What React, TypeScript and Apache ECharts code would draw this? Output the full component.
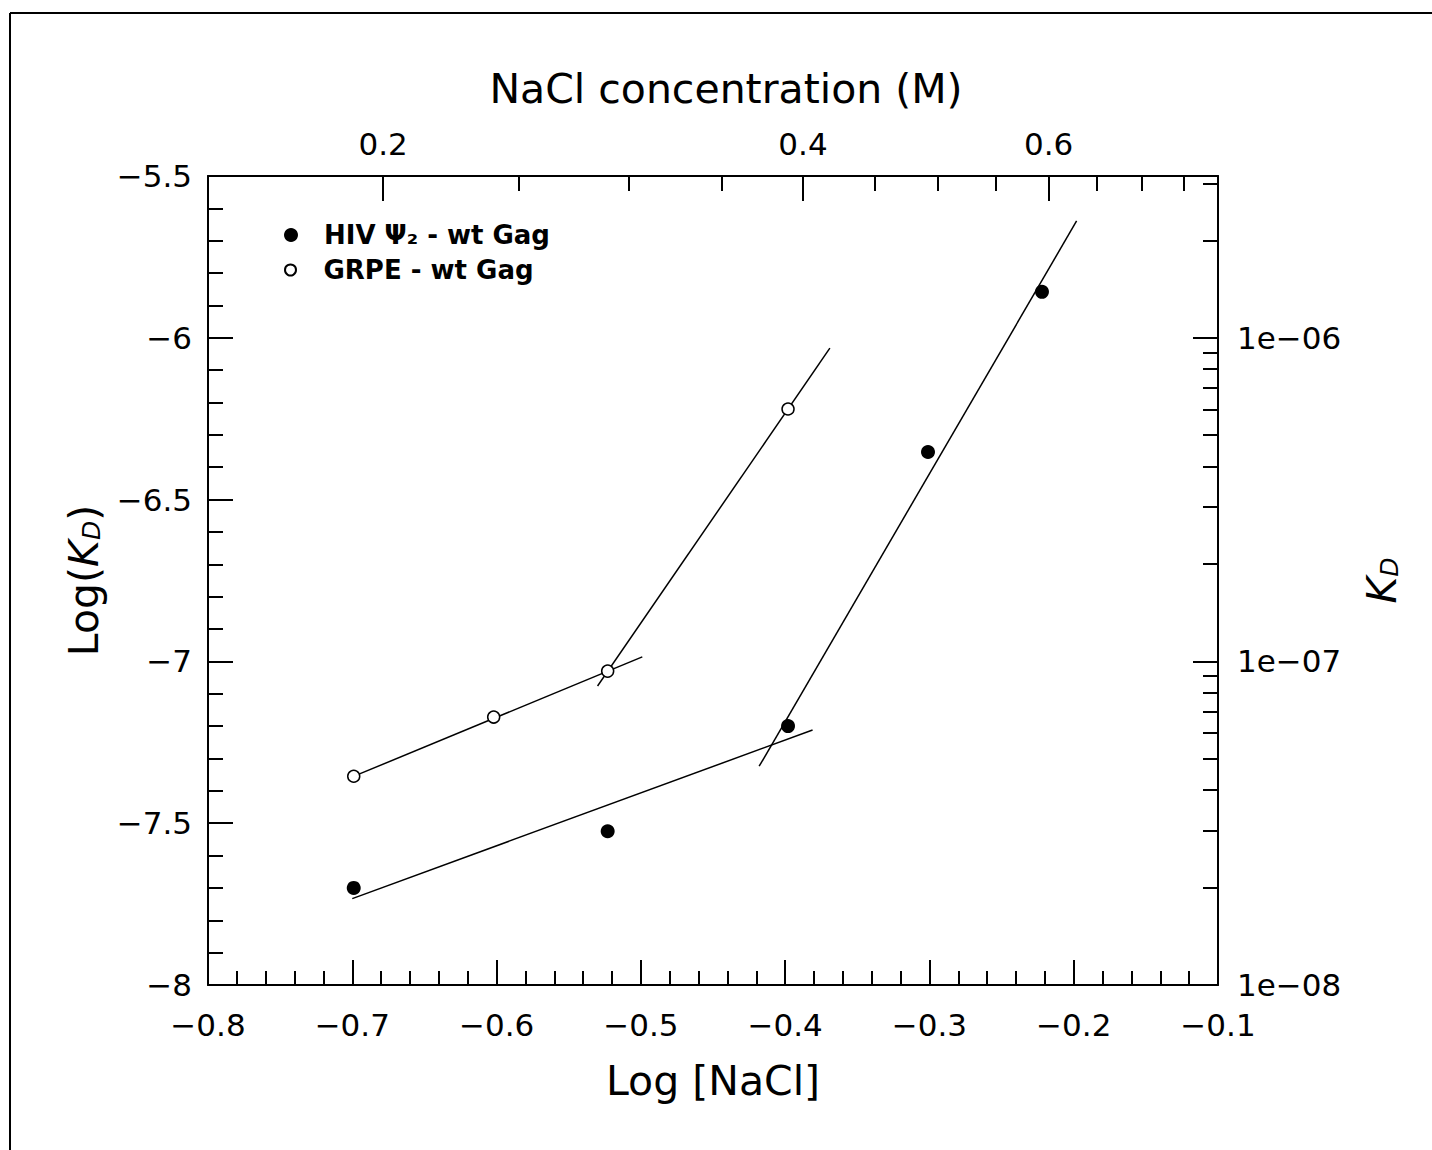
import React, { useEffect, useRef } from "react";
import * as echarts from "echarts";

// ---- data ----
const hivLogNaCl = [-0.699, -0.523, -0.398, -0.301, -0.222];
const hivLogKd = [-7.70, -7.525, -7.20, -6.353, -5.858];
const grpeLogNaCl = [-0.699, -0.602, -0.523, -0.398];
const grpeLogKd = [-7.355, -7.172, -7.03, -6.22];

// fitted line segments [x, y]
const hivFitLow = [[-0.700, -7.733], [-0.381, -7.212]];
const hivFitHigh = [[-0.418, -7.324], [-0.198, -5.639]];
const grpeFitLow = [[-0.700, -7.357], [-0.499, -6.986]];
const grpeFitHigh = [[-0.530, -7.076], [-0.369, -6.032]];

// axis ranges / ticks
const X_MIN = -0.8;
const X_MAX = -0.1;
const Y_MIN = -8;
const Y_MAX = -5.5;
const topTickConc = [0.2, 0.25, 0.3, 0.35, 0.4, 0.45, 0.5, 0.55, 0.6, 0.65, 0.7, 0.75];
const topLabelConc = [0.2, 0.4, 0.6];
const TOP_OFFSET = -0.0029;
const TOP_SCALE = 0.9668;
const kdMajorExp = [-8, -7, -6];
const kdMinorMult = [2, 3, 4, 5, 6, 7, 8, 9];

const LEGEND_HIV = "HIV Ψ\u2082 - wt Gag";
const LEGEND_GRPE = "GRPE - wt Gag";

const FONT = "DejaVu Sans";
const MINUS = "\u2212";

const concToPos = (c: number) => TOP_OFFSET + TOP_SCALE * Math.log10(c);
const posToConc = (p: number) => Math.pow(10, (p - TOP_OFFSET) / TOP_SCALE);

const topMajorPos = topLabelConc.map(concToPos);
const topMinorPos = topTickConc.filter((c) => topLabelConc.indexOf(c) < 0).map(concToPos);
const kdMinorPos: number[] = [];
kdMajorExp.forEach((e) => {
  kdMinorMult.forEach((m) => {
    const v = Math.log10(m) + e;
    if (v <= Y_MAX + 1e-9) kdMinorPos.push(v);
  });
});

const fmtNum = (v: number) => {
  const r = Math.round(v * 10) / 10;
  return String(r).replace("-", MINUS);
};
const fmtX = (v: number) => (Math.round(v * 10) / 10).toFixed(1).replace("-", MINUS);

const lineBase = { color: "#000", width: 2 };
const labelBase = { fontSize: 31, fontFamily: FONT, color: "#000" };
const nameBase = { fontSize: 41, fontFamily: FONT, color: "#000" };
const richKd = {
  k: { fontStyle: "italic", fontSize: 41, fontFamily: FONT, color: "#000" },
  d: { fontStyle: "italic", fontSize: 25, fontFamily: FONT, color: "#000", verticalAlign: "bottom", lineHeight: 12 },
};

const fitSeries = (name: string, data: number[][]) => ({
  name,
  type: "line",
  data,
  symbol: "none",
  showSymbol: false,
  silent: true,
  lineStyle: { color: "#000", width: 1.5 },
  z: 3,
});

const legendText = { fontSize: 26, fontWeight: "bold", fontFamily: FONT, color: "#000", lineHeight: 26 };

export default function App() {
  const ref = useRef<HTMLDivElement>(null);
  useEffect(() => {
    const chart = echarts.init(ref.current!, null, { renderer: "svg" });
    const option: any = {
      animation: false,
      backgroundColor: "#fff",
      textStyle: { fontFamily: FONT },
      grid: { left: 208, top: 176, right: 214, bottom: 165, containLabel: false },
      graphic: [
        { type: "line", shape: { x1: 10, y1: 13, x2: 1432, y2: 13 }, style: { stroke: "#000", lineWidth: 2 } },
        { type: "line", shape: { x1: 10, y1: 13, x2: 10, y2: 1150 }, style: { stroke: "#000", lineWidth: 2 } },
      ],
      legend: [
        {
          data: [{ name: LEGEND_HIV, icon: "circle" }],
          left: 284,
          top: 222,
          padding: 0,
          itemWidth: 56,
          itemHeight: 14,
          selectedMode: false,
          itemStyle: { opacity: 1 },
          textStyle: legendText,
        },
        {
          data: [{ name: LEGEND_GRPE, icon: "circle" }],
          left: 284,
          top: 257,
          padding: 0,
          itemWidth: 56,
          itemHeight: 11,
          selectedMode: false,
          itemStyle: { opacity: 1 },
          textStyle: legendText,
        },
      ],
      xAxis: [
        {
          type: "value",
          position: "bottom",
          min: X_MIN,
          max: X_MAX,
          interval: 0.1,
          axisLine: { show: true, onZero: false, lineStyle: lineBase },
          axisTick: { show: true, inside: true, length: 25, lineStyle: lineBase },
          minorTick: { show: true, splitNumber: 5, length: 14, lineStyle: lineBase },
          splitLine: { show: false },
          minorSplitLine: { show: false },
          axisLabel: { ...labelBase, margin: 24, formatter: fmtX, showMinLabel: true, showMaxLabel: true },
          name: "Log [NaCl]",
          nameLocation: "middle",
          nameGap: 75,
          nameTextStyle: nameBase,
        },
        {
          type: "value",
          position: "top",
          min: X_MIN,
          max: X_MAX,
          axisLine: { show: true, onZero: false, lineStyle: lineBase },
          axisTick: { show: true, inside: true, length: 25, lineStyle: lineBase, customValues: topMajorPos },
          splitLine: { show: false },
          axisLabel: {
            ...labelBase,
            margin: 17,
            customValues: topMajorPos,
            formatter: (v: number) => posToConc(v).toFixed(1),
          },
          name: "NaCl concentration (M)",
          nameLocation: "middle",
          nameGap: 67,
          nameTextStyle: { ...nameBase, padding: [0, 0, 0, 26] },
        },
        {
          type: "value",
          position: "top",
          min: X_MIN,
          max: X_MAX,
          axisLine: { show: false },
          axisTick: { show: true, inside: true, length: 15, lineStyle: lineBase, customValues: topMinorPos },
          splitLine: { show: false },
          axisLabel: { show: false },
        },
      ],
      yAxis: [
        {
          type: "value",
          position: "left",
          min: Y_MIN,
          max: Y_MAX,
          interval: 0.5,
          axisLine: { show: true, onZero: false, lineStyle: lineBase },
          axisTick: { show: true, inside: true, length: 25, lineStyle: lineBase },
          minorTick: { show: true, splitNumber: 5, length: 15, lineStyle: lineBase },
          splitLine: { show: false },
          minorSplitLine: { show: false },
          axisLabel: { ...labelBase, margin: 16, formatter: fmtNum, showMinLabel: true, showMaxLabel: true },
          name: "Log({k|K}{d|D})",
          nameLocation: "middle",
          nameGap: 104,
          nameRotate: 90,
          nameTextStyle: { ...nameBase, rich: richKd },
        },
        {
          type: "value",
          position: "right",
          min: Y_MIN,
          max: Y_MAX,
          axisLine: { show: true, onZero: false, lineStyle: lineBase },
          axisTick: { show: true, inside: true, length: 25, lineStyle: lineBase, customValues: kdMajorExp },
          splitLine: { show: false },
          axisLabel: {
            ...labelBase,
            margin: 19,
            customValues: kdMajorExp,
            formatter: (v: number) => "1e" + MINUS + "0" + String(Math.round(-v)),
          },
          name: "{k|K}{d|D}",
          nameLocation: "middle",
          nameGap: 143,
          nameRotate: 90,
          nameTextStyle: { ...nameBase, rich: richKd },
        },
        {
          type: "value",
          position: "right",
          min: Y_MIN,
          max: Y_MAX,
          axisLine: { show: false },
          axisTick: { show: true, inside: true, length: 15, lineStyle: lineBase, customValues: kdMinorPos },
          splitLine: { show: false },
          axisLabel: { show: false },
        },
      ],
      series: [
        fitSeries("fitHivLow", hivFitLow),
        fitSeries("fitHivHigh", hivFitHigh),
        fitSeries("fitGrpeLow", grpeFitLow),
        fitSeries("fitGrpeHigh", grpeFitHigh),
        {
          name: LEGEND_HIV,
          type: "scatter",
          symbol: "circle",
          symbolSize: 14,
          data: hivLogNaCl.map((x, i) => [x, hivLogKd[i]]),
          itemStyle: { color: "#000", borderColor: "#000", borderWidth: 0, opacity: 1 },
          z: 5,
        },
        {
          name: LEGEND_GRPE,
          type: "scatter",
          symbol: "circle",
          symbolSize: 12,
          data: grpeLogNaCl.map((x, i) => [x, grpeLogKd[i]]),
          itemStyle: { color: "#fff", borderColor: "#000", borderWidth: 1.5, opacity: 1 },
          z: 5,
        },
      ],
    };
    chart.setOption(option);
    return () => chart.dispose();
  }, []);
  return (
    <div
      ref={ref}
      style={{ position: "absolute", left: 0, top: 0, width: 1432, height: 1150, background: "#fff" }}
    />
  );
}
